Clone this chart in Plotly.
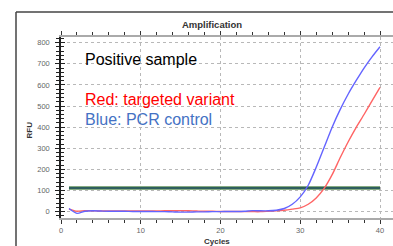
import plotly.graph_objects as go

cycles = list(range(1, 41))
blue_rfu = [15, -8, 2, 4, 3, 2, 2, 2, 1, 1, 1, 0, 0, -1, -2, -2, -1, -1, 0, 0,
            1, 1, 2, 5, 4, 4, 7, 15, 35, 70, 125, 210, 305, 400, 483, 556, 620, 680, 733, 781]
red_rfu = [12, 2, 5, 4, 3, 3, 3, 3, 3, 3, 3, 3, 4, 4, 5, 4, 3, 2, 2, 1,
           1, 1, 0, 0, 0, 2, 4, 7, 12, 18, 35, 65, 110, 175, 255, 330, 398, 460, 525, 589]
threshold_x = [1, 40]
threshold_rfu = [112, 112]

y_ticks = [0, 100, 200, 300, 400, 500, 600, 700, 800]
x_ticks = [0, 10, 20, 30, 40]

W, H = 393, 246
L, R, T, B = 61, 0, 37, 28
pw, ph = W - L - R, H - T - B

def px(x):
    return (x - L) / pw

def py(y):
    return (H - B - y) / ph

fig = go.Figure()
fig.add_trace(go.Scatter(x=threshold_x, y=threshold_rfu, mode="lines",
                         line=dict(color="#5f8f5a", width=3.5), hoverinfo="skip"))
fig.add_trace(go.Scatter(x=threshold_x, y=threshold_rfu, mode="lines",
                         line=dict(color="#1e4e60", width=1.6), hoverinfo="skip"))
fig.add_trace(go.Scatter(x=cycles, y=red_rfu, mode="lines",
                         line=dict(color="#ff6464", width=1.4, shape="spline", smoothing=0.7)))
fig.add_trace(go.Scatter(x=cycles, y=blue_rfu, mode="lines",
                         line=dict(color="#6464ff", width=1.4, shape="spline", smoothing=0.7)))

# y-axis overlay for inside ticks (crossing tick look)
fig.add_trace(go.Scatter(x=[None], y=[None], yaxis="y2", showlegend=False))

fig.update_layout(
    width=W, height=H,
    margin=dict(l=L, r=R, t=T, b=B, autoexpand=False),
    paper_bgcolor="white", plot_bgcolor="white",
    showlegend=False,
    font=dict(family="Liberation Sans, Arial", color="#555"),
    title=dict(text="<b>Amplification</b>", x=212 / W, y=1 - 25 / H,
               xanchor="center", yanchor="middle", xref="container", yref="container",
               font=dict(size=9.5, color="#333")),
    xaxis=dict(range=[0, pw / 7.975], tickvals=x_ticks, showgrid=True, automargin=False,
               gridcolor="#b8b8b8", griddash="dot", gridwidth=1, zeroline=False,
               showline=True, linecolor="#aaa", linewidth=2, mirror="ticks",
               ticks="outside", ticklen=4, tickcolor="#333", tickwidth=1,
               minor=dict(dtick=2, ticks="outside", ticklen=3, tickcolor="#333", showgrid=False),
               tickfont=dict(size=7.5, color="#666")),
    yaxis=dict(range=[-30, 827], tickvals=y_ticks, showgrid=True, automargin=False,
               gridcolor="#b8b8b8", griddash="dot", gridwidth=1, zeroline=False,
               showline=True, linecolor="#222", linewidth=1.5,
               ticks="outside", ticklen=4, tickcolor="#222", tickwidth=1,
               minor=dict(dtick=20, ticks="outside", ticklen=3, tickcolor="#222", showgrid=False),
               tickfont=dict(size=7.5, color="#666"), ticklabelstandoff=4),
    yaxis2=dict(range=[-30, 827], overlaying="y", side="left", showgrid=False, automargin=False,
                zeroline=False, showticklabels=False, tickvals=y_ticks,
                ticks="inside", ticklen=4, tickcolor="#222",
                minor=dict(dtick=20, ticks="inside", ticklen=3, tickcolor="#222")),
)

ann = [
    dict(text="Positive sample", x=px(82.5), y=py(59.5), color="black"),
    dict(text="Red: targeted variant", x=px(82.5), y=py(99.5), color="#ff0000"),
    dict(text="Blue: PCR control", x=px(82.5), y=py(119.5), color="#4472c4"),
]
for a in ann:
    fig.add_annotation(text=a["text"], x=a["x"], y=a["y"], xref="paper", yref="paper",
                       xanchor="left", yanchor="middle", showarrow=False,
                       font=dict(size=16, color=a["color"], family="Liberation Sans, Arial"))

fig.add_annotation(text="<b>RFU</b>", x=px(28.5), y=py(130), xref="paper", yref="paper",
                   xanchor="center", yanchor="middle",
                   textangle=-90, showarrow=False, font=dict(size=8, color="#333"))
fig.add_annotation(text="<b>Cycles</b>", x=px(217), y=py(235), xref="paper", yref="paper",
                   xanchor="center", yanchor="top",
                   showarrow=False, font=dict(size=8, color="#333"))

# outer frame
fig.add_shape(type="line", xref="paper", yref="paper", x0=px(16), x1=px(16), y0=py(260), y1=py(12),
              line=dict(color="#444", width=1.5))
fig.add_shape(type="line", xref="paper", yref="paper", x0=px(16), x1=px(400), y0=py(12), y1=py(12),
              line=dict(color="#444", width=1.5))

fig.write_html("out.html", config={"displayModeBar": False},
               post_script="document.body.style.margin='0';document.body.style.overflow='hidden';")
